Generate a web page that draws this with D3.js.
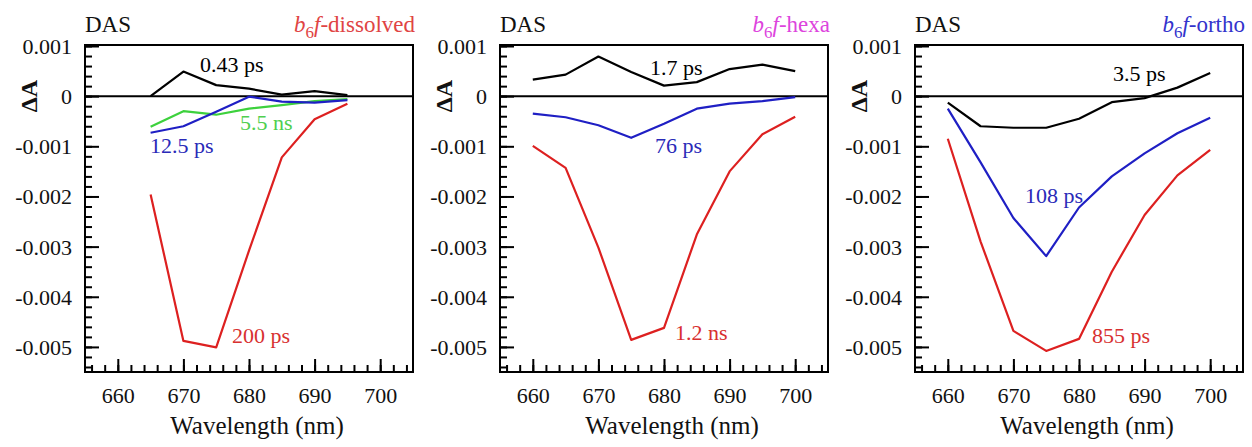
<!DOCTYPE html>
<html>
<head>
<meta charset="utf-8">
<script src="https://cdn.jsdelivr.net/npm/d3@7"></script>
<style>
  html, body { margin: 0; padding: 0; background: #fff; }
  svg { display: block; }
  svg text { font-family: "Liberation Serif", "Tinos", "Times New Roman", "Nimbus Roman", "FreeSerif", "DejaVu Serif", serif; }
</style>
</head>
<body>
<svg id="chart" width="1252" height="447"></svg>
<script>
// Wavelength grids (nm)
const wlDissolved = [665, 670, 675, 680, 685, 690, 695];
const wlFull = [660, 665, 670, 675, 680, 685, 690, 695, 700];

// Decay-associated spectra, b6f-dissolved
const dissolved043ps = [0.0, 0.00049, 0.00022, 0.00015, 0.00003, 0.0001, 0.00002];
const dissolved125ps = [-0.00073, -0.0006, -0.00031, -0.00001, -0.00011, -0.00013, -0.00008];
const dissolved55ns = [-0.00061, -0.0003, -0.00037, -0.00025, -0.00018, -0.0001, -0.00006];
const dissolved200ps = [-0.00196, -0.00488, -0.00501, -0.00308, -0.00122, -0.00046, -0.00015];

// b6f-hexa
const hexa17ps = [0.00033, 0.00043, 0.00079, 0.00048, 0.00021, 0.00028, 0.00054, 0.00063, 0.0005];
const hexa76ps = [-0.00035, -0.00042, -0.00058, -0.00083, -0.00055, -0.00025, -0.00015, -0.0001, -0.00002];
const hexa12ns = [-0.00099, -0.00143, -0.00302, -0.00486, -0.00462, -0.00276, -0.0015, -0.00076, -0.00041];

// b6f-ortho
const ortho35ps = [-0.00013, -0.0006, -0.00063, -0.00063, -0.00045, -0.00012, -0.00004, 0.00017, 0.00046];
const ortho108ps = [-0.00025, -0.00132, -0.00243, -0.00319, -0.00222, -0.0016, -0.00114, -0.00074, -0.00043];
const ortho855ps = [-0.00085, -0.0029, -0.00468, -0.00508, -0.00484, -0.0035, -0.00237, -0.00158, -0.00107];

// Axis ticks
const xMajorTicks = [660, 670, 680, 690, 700];
const yMajorTicks = [-0.005, -0.004, -0.003, -0.002, -0.001, 0, 0.001];

const RED = "#dd2020", BLUE = "#1f1fc4", GREEN = "#3dd13d", BLACK = "#000";
const SERIF = '"Liberation Serif", "Tinos", "Times New Roman", "Nimbus Roman", "FreeSerif", "DejaVu Serif", serif';

const panels = [
  {
    left: 85, title: "dissolved", titleColor: "#e04444",
    series: [
      { x: wlDissolved, y: dissolved043ps, color: BLACK, label: "0.43 ps", lx: 200, ly: 72, lc: BLACK },
      { x: wlDissolved, y: dissolved55ns, color: GREEN, label: "5.5 ns", lx: 240, ly: 130, lc: "#4fcf4f" },
      { x: wlDissolved, y: dissolved125ps, color: BLUE, label: "12.5 ps", lx: 150, ly: 153, lc: "#2a2ab8" },
      { x: wlDissolved, y: dissolved200ps, color: RED, label: "200 ps", lx: 232, ly: 343, lc: "#d83030" }
    ]
  },
  {
    left: 500, title: "hexa", titleColor: "#dd44dd",
    series: [
      { x: wlFull, y: hexa17ps, color: BLACK, label: "1.7 ps", lx: 650, ly: 75, lc: BLACK },
      { x: wlFull, y: hexa76ps, color: BLUE, label: "76 ps", lx: 655, ly: 153, lc: "#2a2ab8" },
      { x: wlFull, y: hexa12ns, color: RED, label: "1.2 ns", lx: 675, ly: 340, lc: "#d83030" }
    ]
  },
  {
    left: 915, title: "ortho", titleColor: "#3333cc",
    series: [
      { x: wlFull, y: ortho35ps, color: BLACK, label: "3.5 ps", lx: 1113, ly: 81, lc: BLACK },
      { x: wlFull, y: ortho108ps, color: BLUE, label: "108 ps", lx: 1025, ly: 203, lc: "#2a2ab8" },
      { x: wlFull, y: ortho855ps, color: RED, label: "855 ps", lx: 1092, ly: 343, lc: "#d83030" }
    ]
  }
];

const svg = d3.select("#chart");
const W = 328, TOP = 45, BOTTOM = 372;

panels.forEach(p => {
  const x = d3.scaleLinear().domain([655, 705]).range([p.left, p.left + W]);
  const y = d3.scaleLinear().domain([-0.0055, 0.00102]).range([BOTTOM, TOP]);
  const g = svg.append("g").attr("font-family", SERIF);

  // Minor and major ticks along the left edge (pointing inward)
  const yMinor = d3.range(-0.0054, 0.00101, 0.0002);
  g.append("g")
    .attr("transform", `translate(${p.left},0)`)
    .call(d3.axisRight(y).tickValues(yMinor).tickSize(7).tickFormat(""))
    .call(a => a.select(".domain").remove())
    .call(a => a.selectAll("line").attr("stroke", "#000").attr("stroke-width", 2));
  g.append("g")
    .attr("transform", `translate(${p.left},0)`)
    .call(d3.axisRight(y).tickValues(yMajorTicks).tickSize(14)
      .tickFormat(d => Math.abs(d) < 1e-9 ? "0" : d.toFixed(3)))
    .attr("font-family", SERIF)
    .call(a => a.select(".domain").remove())
    .call(a => a.selectAll("line").attr("stroke", "#000").attr("stroke-width", 2))
    .call(a => a.selectAll("text")
      .attr("x", -13).attr("dy", "0.34em")
      .attr("text-anchor", "end")
      .attr("font-size", 22).attr("fill", "#111"));

  // Ticks along the bottom edge (pointing inward)
  const xMinor = d3.range(656, 705, 2);
  g.append("g")
    .attr("transform", `translate(0,${BOTTOM})`)
    .call(d3.axisTop(x).tickValues(xMinor).tickSize(7).tickFormat(""))
    .call(a => a.select(".domain").remove())
    .call(a => a.selectAll("line").attr("stroke", "#000").attr("stroke-width", 2));
  g.append("g")
    .attr("transform", `translate(0,${BOTTOM})`)
    .call(d3.axisTop(x).tickValues(xMajorTicks).tickSize(13).tickFormat(d3.format("d")))
    .attr("font-family", SERIF)
    .call(a => a.select(".domain").remove())
    .call(a => a.selectAll("line").attr("stroke", "#000").attr("stroke-width", 2))
    .call(a => a.selectAll("text")
      .attr("y", 31).attr("dy", 0)
      .attr("text-anchor", "middle")
      .attr("font-size", 22).attr("fill", "#111"));

  // Zero line
  g.append("line")
    .attr("x1", p.left).attr("x2", p.left + W)
    .attr("y1", y(0)).attr("y2", y(0))
    .attr("stroke", "#000").attr("stroke-width", 2);

  // Spectra
  const line = d3.line().x(d => x(d[0])).y(d => y(d[1]));
  p.series.forEach(s => {
    g.append("path")
      .datum(s.x.map((w, i) => [w, s.y[i]]))
      .attr("d", line)
      .attr("fill", "none")
      .attr("stroke", s.color)
      .attr("stroke-width", 2.2)
      .attr("stroke-linejoin", "round");
  });
  p.series.forEach(s => {
    g.append("text")
      .attr("x", s.lx).attr("y", s.ly)
      .attr("font-size", 22).attr("fill", s.lc)
      .text(s.label);
  });

  // Frame
  g.append("rect")
    .attr("x", p.left).attr("y", TOP)
    .attr("width", W).attr("height", BOTTOM - TOP)
    .attr("fill", "none").attr("stroke", "#000").attr("stroke-width", 2);

  // Headers
  g.append("text")
    .attr("x", p.left).attr("y", 32)
    .attr("font-size", 23).attr("fill", "#111")
    .text("DAS");
  const t = g.append("text")
    .attr("x", p.left + W + 2).attr("y", 32)
    .attr("text-anchor", "end")
    .attr("font-size", 23).attr("fill", p.titleColor);
  t.append("tspan").attr("font-style", "italic").text("b");
  t.append("tspan").attr("font-size", 17).attr("dy", 6).text("6");
  t.append("tspan").attr("font-style", "italic").attr("dy", -6).text("f");
  t.append("tspan").text("-" + p.title);

  // Axis titles
  g.append("text")
    .attr("x", p.left + W / 2 + 8).attr("y", 434)
    .attr("text-anchor", "middle")
    .attr("font-size", 25).attr("fill", "#111")
    .text("Wavelength (nm)");
  g.append("text")
    .attr("transform", `translate(${p.left - 48},${y(0)}) rotate(-90)`)
    .attr("text-anchor", "middle")
    .attr("font-size", 24).attr("font-weight", "bold").attr("fill", "#111")
    .text("ΔA");
});
</script>
</body>
</html>
